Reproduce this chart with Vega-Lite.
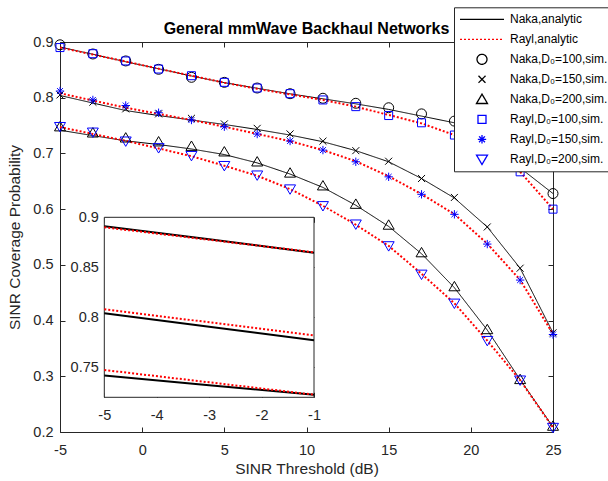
{
"$schema": "https://vega.github.io/schema/vega-lite/v6.json",
"width": 493, "height": 390,
"autosize": {"type": "none"},
"padding": {"left": 60, "top": 42, "right": 55, "bottom": 49},
"background": "white",
"title": {"text": "General mmWave Backhaul Networks", "frame": "group", "anchor": "middle", "offset": -42.7, "baseline": "alphabetic", "font": "Liberation Sans", "fontSize": 16, "fontWeight": "bold", "color": "#000000"},
"datasets": {
"ana": [
{"s":"Naka,analytic","d":100,"x":-5,"v":0.891},{"s":"Naka,analytic","d":100,"x":-3,"v":0.878},{"s":"Naka,analytic","d":100,"x":-1,"v":0.8645},{"s":"Naka,analytic","d":100,"x":1,"v":0.852},{"s":"Naka,analytic","d":100,"x":3,"v":0.839},{"s":"Naka,analytic","d":100,"x":5,"v":0.827},{"s":"Naka,analytic","d":100,"x":7,"v":0.817},{"s":"Naka,analytic","d":100,"x":9,"v":0.807},{"s":"Naka,analytic","d":100,"x":11,"v":0.798},{"s":"Naka,analytic","d":100,"x":13,"v":0.789},{"s":"Naka,analytic","d":100,"x":15,"v":0.779},{"s":"Naka,analytic","d":100,"x":17,"v":0.767},{"s":"Naka,analytic","d":100,"x":19,"v":0.755},{"s":"Naka,analytic","d":100,"x":21,"v":0.723},{"s":"Naka,analytic","d":100,"x":23,"v":0.674},{"s":"Naka,analytic","d":100,"x":25,"v":0.628},
{"s":"Naka,analytic","d":150,"x":-5,"v":0.804},{"s":"Naka,analytic","d":150,"x":-3,"v":0.7905},{"s":"Naka,analytic","d":150,"x":-1,"v":0.777},{"s":"Naka,analytic","d":150,"x":1,"v":0.768},{"s":"Naka,analytic","d":150,"x":3,"v":0.760},{"s":"Naka,analytic","d":150,"x":5,"v":0.752},{"s":"Naka,analytic","d":150,"x":7,"v":0.743},{"s":"Naka,analytic","d":150,"x":9,"v":0.733},{"s":"Naka,analytic","d":150,"x":11,"v":0.721},{"s":"Naka,analytic","d":150,"x":13,"v":0.705},{"s":"Naka,analytic","d":150,"x":15,"v":0.685},{"s":"Naka,analytic","d":150,"x":17,"v":0.655},{"s":"Naka,analytic","d":150,"x":19,"v":0.620},{"s":"Naka,analytic","d":150,"x":21,"v":0.568},{"s":"Naka,analytic","d":150,"x":23,"v":0.494},{"s":"Naka,analytic","d":150,"x":25,"v":0.378},
{"s":"Naka,analytic","d":200,"x":-5,"v":0.7417},{"s":"Naka,analytic","d":200,"x":-3,"v":0.732},{"s":"Naka,analytic","d":200,"x":-1,"v":0.7226},{"s":"Naka,analytic","d":200,"x":1,"v":0.716},{"s":"Naka,analytic","d":200,"x":3,"v":0.708},{"s":"Naka,analytic","d":200,"x":5,"v":0.698},{"s":"Naka,analytic","d":200,"x":7,"v":0.683},{"s":"Naka,analytic","d":200,"x":9,"v":0.663},{"s":"Naka,analytic","d":200,"x":11,"v":0.639},{"s":"Naka,analytic","d":200,"x":13,"v":0.607},{"s":"Naka,analytic","d":200,"x":15,"v":0.569},{"s":"Naka,analytic","d":200,"x":17,"v":0.520},{"s":"Naka,analytic","d":200,"x":19,"v":0.459},{"s":"Naka,analytic","d":200,"x":21,"v":0.383},{"s":"Naka,analytic","d":200,"x":23,"v":0.294},{"s":"Naka,analytic","d":200,"x":25,"v":0.209},
{"s":"Rayl,analytic","d":100,"x":-5,"v":0.890},{"s":"Rayl,analytic","d":100,"x":-3,"v":0.8775},{"s":"Rayl,analytic","d":100,"x":-1,"v":0.865},{"s":"Rayl,analytic","d":100,"x":1,"v":0.852},{"s":"Rayl,analytic","d":100,"x":3,"v":0.8395},{"s":"Rayl,analytic","d":100,"x":5,"v":0.827},{"s":"Rayl,analytic","d":100,"x":7,"v":0.816},{"s":"Rayl,analytic","d":100,"x":9,"v":0.806},{"s":"Rayl,analytic","d":100,"x":11,"v":0.796},{"s":"Rayl,analytic","d":100,"x":13,"v":0.784},{"s":"Rayl,analytic","d":100,"x":15,"v":0.769},{"s":"Rayl,analytic","d":100,"x":17,"v":0.754},{"s":"Rayl,analytic","d":100,"x":19,"v":0.733},{"s":"Rayl,analytic","d":100,"x":21,"v":0.705},{"s":"Rayl,analytic","d":100,"x":23,"v":0.667},{"s":"Rayl,analytic","d":100,"x":25,"v":0.600},
{"s":"Rayl,analytic","d":150,"x":-5,"v":0.808},{"s":"Rayl,analytic","d":150,"x":-3,"v":0.795},{"s":"Rayl,analytic","d":150,"x":-1,"v":0.782},{"s":"Rayl,analytic","d":150,"x":1,"v":0.771},{"s":"Rayl,analytic","d":150,"x":3,"v":0.760},{"s":"Rayl,analytic","d":150,"x":5,"v":0.748},{"s":"Rayl,analytic","d":150,"x":7,"v":0.735},{"s":"Rayl,analytic","d":150,"x":9,"v":0.722},{"s":"Rayl,analytic","d":150,"x":11,"v":0.706},{"s":"Rayl,analytic","d":150,"x":13,"v":0.686},{"s":"Rayl,analytic","d":150,"x":15,"v":0.659},{"s":"Rayl,analytic","d":150,"x":17,"v":0.627},{"s":"Rayl,analytic","d":150,"x":19,"v":0.591},{"s":"Rayl,analytic","d":150,"x":21,"v":0.538},{"s":"Rayl,analytic","d":150,"x":23,"v":0.473},{"s":"Rayl,analytic","d":150,"x":25,"v":0.376},
{"s":"Rayl,analytic","d":200,"x":-5,"v":0.7473},{"s":"Rayl,analytic","d":200,"x":-3,"v":0.735},{"s":"Rayl,analytic","d":200,"x":-1,"v":0.7226},{"s":"Rayl,analytic","d":200,"x":1,"v":0.709},{"s":"Rayl,analytic","d":200,"x":3,"v":0.695},{"s":"Rayl,analytic","d":200,"x":5,"v":0.678},{"s":"Rayl,analytic","d":200,"x":7,"v":0.660},{"s":"Rayl,analytic","d":200,"x":9,"v":0.636},{"s":"Rayl,analytic","d":200,"x":11,"v":0.606},{"s":"Rayl,analytic","d":200,"x":13,"v":0.572},{"s":"Rayl,analytic","d":200,"x":15,"v":0.534},{"s":"Rayl,analytic","d":200,"x":17,"v":0.484},{"s":"Rayl,analytic","d":200,"x":19,"v":0.431},{"s":"Rayl,analytic","d":200,"x":21,"v":0.364},{"s":"Rayl,analytic","d":200,"x":23,"v":0.293},{"s":"Rayl,analytic","d":200,"x":25,"v":0.208}
],
"sim": [
{"s":"Naka,D₀=100,sim.","x":-5,"v":0.895},{"s":"Naka,D₀=100,sim.","x":-3,"v":0.8785},{"s":"Naka,D₀=100,sim.","x":-1,"v":0.866},{"s":"Naka,D₀=100,sim.","x":1,"v":0.851},{"s":"Naka,D₀=100,sim.","x":3,"v":0.8366},{"s":"Naka,D₀=100,sim.","x":5,"v":0.8276},{"s":"Naka,D₀=100,sim.","x":7,"v":0.8174},{"s":"Naka,D₀=100,sim.","x":9,"v":0.8072},{"s":"Naka,D₀=100,sim.","x":11,"v":0.799},{"s":"Naka,D₀=100,sim.","x":13,"v":0.790},{"s":"Naka,D₀=100,sim.","x":15,"v":0.782},{"s":"Naka,D₀=100,sim.","x":17,"v":0.771},{"s":"Naka,D₀=100,sim.","x":19,"v":0.758},{"s":"Naka,D₀=100,sim.","x":21,"v":0.726},{"s":"Naka,D₀=100,sim.","x":23,"v":0.676},{"s":"Naka,D₀=100,sim.","x":25,"v":0.628},
{"s":"Naka,D₀=150,sim.","x":-5,"v":0.805},{"s":"Naka,D₀=150,sim.","x":-3,"v":0.792},{"s":"Naka,D₀=150,sim.","x":-1,"v":0.780},{"s":"Naka,D₀=150,sim.","x":1,"v":0.771},{"s":"Naka,D₀=150,sim.","x":3,"v":0.763},{"s":"Naka,D₀=150,sim.","x":5,"v":0.753},{"s":"Naka,D₀=150,sim.","x":7,"v":0.745},{"s":"Naka,D₀=150,sim.","x":9,"v":0.735},{"s":"Naka,D₀=150,sim.","x":11,"v":0.722},{"s":"Naka,D₀=150,sim.","x":13,"v":0.705},{"s":"Naka,D₀=150,sim.","x":15,"v":0.686},{"s":"Naka,D₀=150,sim.","x":17,"v":0.655},{"s":"Naka,D₀=150,sim.","x":19,"v":0.621},{"s":"Naka,D₀=150,sim.","x":21,"v":0.568},{"s":"Naka,D₀=150,sim.","x":23,"v":0.494},{"s":"Naka,D₀=150,sim.","x":25,"v":0.378},
{"s":"Naka,D₀=200,sim.","x":-5,"v":0.748},{"s":"Naka,D₀=200,sim.","x":-3,"v":0.737},{"s":"Naka,D₀=200,sim.","x":-1,"v":0.728},{"s":"Naka,D₀=200,sim.","x":1,"v":0.721},{"s":"Naka,D₀=200,sim.","x":3,"v":0.713},{"s":"Naka,D₀=200,sim.","x":5,"v":0.703},{"s":"Naka,D₀=200,sim.","x":7,"v":0.685},{"s":"Naka,D₀=200,sim.","x":9,"v":0.665},{"s":"Naka,D₀=200,sim.","x":11,"v":0.642},{"s":"Naka,D₀=200,sim.","x":13,"v":0.609},{"s":"Naka,D₀=200,sim.","x":15,"v":0.5715},{"s":"Naka,D₀=200,sim.","x":17,"v":0.522},{"s":"Naka,D₀=200,sim.","x":19,"v":0.461},{"s":"Naka,D₀=200,sim.","x":21,"v":0.384},{"s":"Naka,D₀=200,sim.","x":23,"v":0.2944},{"s":"Naka,D₀=200,sim.","x":25,"v":0.2106},
{"s":"Rayl,D₀=100,sim.","x":-5,"v":0.890},{"s":"Rayl,D₀=100,sim.","x":-3,"v":0.879},{"s":"Rayl,D₀=100,sim.","x":-1,"v":0.866},{"s":"Rayl,D₀=100,sim.","x":1,"v":0.8515},{"s":"Rayl,D₀=100,sim.","x":3,"v":0.8395},{"s":"Rayl,D₀=100,sim.","x":5,"v":0.8276},{"s":"Rayl,D₀=100,sim.","x":7,"v":0.8174},{"s":"Rayl,D₀=100,sim.","x":9,"v":0.8072},{"s":"Rayl,D₀=100,sim.","x":11,"v":0.796},{"s":"Rayl,D₀=100,sim.","x":13,"v":0.784},{"s":"Rayl,D₀=100,sim.","x":15,"v":0.768},{"s":"Rayl,D₀=100,sim.","x":17,"v":0.755},{"s":"Rayl,D₀=100,sim.","x":19,"v":0.733},{"s":"Rayl,D₀=100,sim.","x":21,"v":0.705},{"s":"Rayl,D₀=100,sim.","x":23,"v":0.667},{"s":"Rayl,D₀=100,sim.","x":25,"v":0.600},
{"s":"Rayl,D₀=150,sim.","x":-5,"v":0.812},{"s":"Rayl,D₀=150,sim.","x":-3,"v":0.796},{"s":"Rayl,D₀=150,sim.","x":-1,"v":0.786},{"s":"Rayl,D₀=150,sim.","x":1,"v":0.773},{"s":"Rayl,D₀=150,sim.","x":3,"v":0.760},{"s":"Rayl,D₀=150,sim.","x":5,"v":0.748},{"s":"Rayl,D₀=150,sim.","x":7,"v":0.7348},{"s":"Rayl,D₀=150,sim.","x":9,"v":0.7223},{"s":"Rayl,D₀=150,sim.","x":11,"v":0.706},{"s":"Rayl,D₀=150,sim.","x":13,"v":0.685},{"s":"Rayl,D₀=150,sim.","x":15,"v":0.658},{"s":"Rayl,D₀=150,sim.","x":17,"v":0.6266},{"s":"Rayl,D₀=150,sim.","x":19,"v":0.5907},{"s":"Rayl,D₀=150,sim.","x":21,"v":0.5373},{"s":"Rayl,D₀=150,sim.","x":23,"v":0.4727},{"s":"Rayl,D₀=150,sim.","x":25,"v":0.375},
{"s":"Rayl,D₀=200,sim.","x":-5,"v":0.748},{"s":"Rayl,D₀=200,sim.","x":-3,"v":0.738},{"s":"Rayl,D₀=200,sim.","x":-1,"v":0.722},{"s":"Rayl,D₀=200,sim.","x":1,"v":0.710},{"s":"Rayl,D₀=200,sim.","x":3,"v":0.696},{"s":"Rayl,D₀=200,sim.","x":5,"v":0.678},{"s":"Rayl,D₀=200,sim.","x":7,"v":0.661},{"s":"Rayl,D₀=200,sim.","x":9,"v":0.636},{"s":"Rayl,D₀=200,sim.","x":11,"v":0.606},{"s":"Rayl,D₀=200,sim.","x":13,"v":0.573},{"s":"Rayl,D₀=200,sim.","x":15,"v":0.534},{"s":"Rayl,D₀=200,sim.","x":17,"v":0.483},{"s":"Rayl,D₀=200,sim.","x":19,"v":0.431},{"s":"Rayl,D₀=200,sim.","x":21,"v":0.364},{"s":"Rayl,D₀=200,sim.","x":23,"v":0.293},{"s":"Rayl,D₀=200,sim.","x":25,"v":0.208}
]
},
"layer": [
{
"layer": [
{
"data": {"name": "ana"},
"transform": [{"filter": "datum.s == 'Naka,analytic'"}],
"mark": {"type": "line", "strokeWidth": 1},
"encoding": {
"x": {"field": "x", "type": "quantitative", "scale": {"domain": [-5, 25], "nice": false, "zero": false}, "axis": {"orient": "bottom", "values": [-5, 0, 5, 10, 15, 20, 25], "labelExpr": "datum.value", "labelPadding": 16, "title": "SINR Threshold (dB)", "titlePadding": 5}},
"y": {"field": "v", "type": "quantitative", "scale": {"domain": [0.2, 0.9], "nice": false, "zero": false}, "axis": {"orient": "left", "values": [0.2, 0.3, 0.4, 0.5, 0.6, 0.7, 0.8, 0.9], "format": ".1f", "labelPadding": 12, "title": "SINR Coverage Probability", "titlePadding": 10}},
"detail": {"field": "d", "type": "nominal"},
"color": {"field": "s", "type": "nominal", "legend": {"title": null}, "scale": {"domain": ["Naka,analytic", "Rayl,analytic", "Naka,D₀=100,sim.", "Naka,D₀=150,sim.", "Naka,D₀=200,sim.", "Rayl,D₀=100,sim.", "Rayl,D₀=150,sim.", "Rayl,D₀=200,sim."], "range": ["#000000", "#ff0000", "#000000", "#000000", "#000000", "#0000ff", "#0000ff", "#0000ff"]}},
"strokeDash": {"field": "s", "type": "nominal", "legend": {"title": null}, "scale": {"domain": ["Naka,analytic", "Rayl,analytic", "Naka,D₀=100,sim.", "Naka,D₀=150,sim.", "Naka,D₀=200,sim.", "Rayl,D₀=100,sim.", "Rayl,D₀=150,sim.", "Rayl,D₀=200,sim."], "range": [[1, 0], [2, 2], [1, 0], [1, 0], [1, 0], [1, 0], [1, 0], [1, 0]]}}
}
},
{
"data": {"name": "ana"},
"transform": [{"filter": "datum.s == 'Rayl,analytic'"}],
"mark": {"type": "line", "strokeWidth": 2},
"encoding": {
"x": {"field": "x", "type": "quantitative", "axis": null},
"y": {"field": "v", "type": "quantitative", "axis": null},
"detail": {"field": "d", "type": "nominal"},
"color": {"field": "s", "type": "nominal", "legend": {"title": null}, "scale": {"domain": ["Naka,analytic", "Rayl,analytic", "Naka,D₀=100,sim.", "Naka,D₀=150,sim.", "Naka,D₀=200,sim.", "Rayl,D₀=100,sim.", "Rayl,D₀=150,sim.", "Rayl,D₀=200,sim."], "range": ["#000000", "#ff0000", "#000000", "#000000", "#000000", "#0000ff", "#0000ff", "#0000ff"]}},
"strokeDash": {"field": "s", "type": "nominal", "legend": {"title": null}, "scale": {"domain": ["Naka,analytic", "Rayl,analytic", "Naka,D₀=100,sim.", "Naka,D₀=150,sim.", "Naka,D₀=200,sim.", "Rayl,D₀=100,sim.", "Rayl,D₀=150,sim.", "Rayl,D₀=200,sim."], "range": [[1, 0], [2, 2], [1, 0], [1, 0], [1, 0], [1, 0], [1, 0], [1, 0]]}}
}
},
{
"data": {"name": "sim"},
"mark": {"type": "point", "filled": false, "size": 1936, "strokeWidth": 1, "opacity": 1},
"encoding": {
"x": {"field": "x", "type": "quantitative", "axis": {"orient": "top", "values": [-5, 0, 5, 10, 15, 20, 25], "labels": false, "title": null}},
"y": {"field": "v", "type": "quantitative", "axis": {"orient": "right", "values": [0.2, 0.3, 0.4, 0.5, 0.6, 0.7, 0.8, 0.9], "labels": false, "title": null}},
"color": {"field": "s", "type": "nominal", "legend": {"title": null}, "scale": {"domain": ["Naka,analytic", "Rayl,analytic", "Naka,D₀=100,sim.", "Naka,D₀=150,sim.", "Naka,D₀=200,sim.", "Rayl,D₀=100,sim.", "Rayl,D₀=150,sim.", "Rayl,D₀=200,sim."], "range": ["#000000", "#ff0000", "#000000", "#000000", "#000000", "#0000ff", "#0000ff", "#0000ff"]}},
"shape": {"field": "s", "type": "nominal", "legend": {"title": null}, "scale": {"domain": ["Naka,analytic", "Rayl,analytic", "Naka,D₀=100,sim.", "Naka,D₀=150,sim.", "Naka,D₀=200,sim.", "Rayl,D₀=100,sim.", "Rayl,D₀=150,sim.", "Rayl,D₀=200,sim."], "range": ["M-1,0H1", "M-1,0H1", "M0.227,0A0.227,0.227,0,1,1,-0.227,0A0.227,0.227,0,1,1,0.227,0Z", "M-0.159,-0.159L0.159,0.159M-0.159,0.159L0.159,-0.159", "M0,-0.236L0.25,0.191L-0.25,0.191Z", "M-0.182,-0.182H0.182V0.182H-0.182Z", "M0,-0.19V0.19M-0.19,0H0.19M-0.134,-0.134L0.134,0.134M-0.134,0.134L0.134,-0.134", "M0,0.236L0.25,-0.191L-0.25,-0.191Z"]}}
}
}
],
"resolve": {"axis": {"x": "independent", "y": "independent"}}
},
{
"layer": [
{
"data": {"values": [{}]},
"mark": {"type": "rect", "fill": "#ffffff", "stroke": "#262626", "strokeWidth": 1},
"encoding": {
"x": {"datum": -5, "type": "quantitative", "scale": {"domain": [-5, -1], "range": [44.3, 254], "nice": false, "zero": false}, "axis": {"orient": "bottom", "offset": -34.7, "values": [-5, -4, -3, -2, -1], "labelExpr": "datum.value", "labelPadding": 16, "title": null}},
"x2": {"datum": -1},
"y": {"datum": 0.72, "type": "quantitative", "scale": {"domain": [0.72, 0.9], "range": [355.3, 175.3], "nice": false, "zero": false}, "axis": {"orient": "left", "offset": -44.3, "values": [0.75, 0.8, 0.85, 0.9], "labelExpr": "'' + datum.value", "labelPadding": 11, "title": null}},
"y2": {"datum": 0.9}
}
},
{
"data": {"name": "ana"},
"transform": [{"filter": "datum.s == 'Naka,analytic' && datum.x <= -1"}],
"mark": {"type": "line", "strokeWidth": 2, "color": "#000000"},
"encoding": {
"x": {"field": "x", "type": "quantitative", "axis": {"orient": "top", "offset": -175.3, "values": [-5, -4, -3, -2, -1], "labels": false, "title": null}},
"y": {"field": "v", "type": "quantitative", "axis": {"orient": "right", "offset": -239, "values": [0.75, 0.8, 0.85, 0.9], "labels": false, "title": null}},
"detail": {"field": "d", "type": "nominal"}
}
},
{
"data": {"name": "ana"},
"transform": [{"filter": "datum.s == 'Rayl,analytic' && datum.x <= -1"}],
"mark": {"type": "line", "strokeWidth": 2, "color": "#ff0000", "strokeDash": [2, 2]},
"encoding": {
"x": {"field": "x", "type": "quantitative", "axis": null},
"y": {"field": "v", "type": "quantitative", "axis": null},
"detail": {"field": "d", "type": "nominal"}
}
}
],
"resolve": {"axis": {"x": "independent", "y": "independent"}}
}
],
"resolve": {"scale": {"x": "independent", "y": "independent"}},
"config": {
"font": "Liberation Sans",
"view": {"stroke": "#262626", "strokeWidth": 1},
"axis": {"labelFont": "Liberation Sans", "labelFontSize": 14.5, "labelColor": "#262626", "titleFont": "Liberation Sans", "titleFontSize": 15.5, "titleFontWeight": "normal", "titleColor": "#262626", "tickColor": "#262626", "tickSize": -5, "tickWidth": 1, "domain": false, "grid": false, "labelFlush": false, "labelOverlap": false},
"legend": {"orient": "none", "legendX": 394, "legendY": -34.7, "direction": "vertical", "fillColor": "#ffffff", "strokeColor": "#262626", "padding": 5, "labelFont": "Liberation Sans", "labelFontSize": 12, "labelColor": "#000000", "labelLimit": 0, "labelOffset": 5, "symbolSize": 1936, "symbolStrokeWidth": 1.3, "symbolOffset": 0, "symbolOpacity": 1, "symbolFillColor": "transparent", "clipHeight": 14, "rowPadding": 6, "cornerRadius": 0}
}
}
